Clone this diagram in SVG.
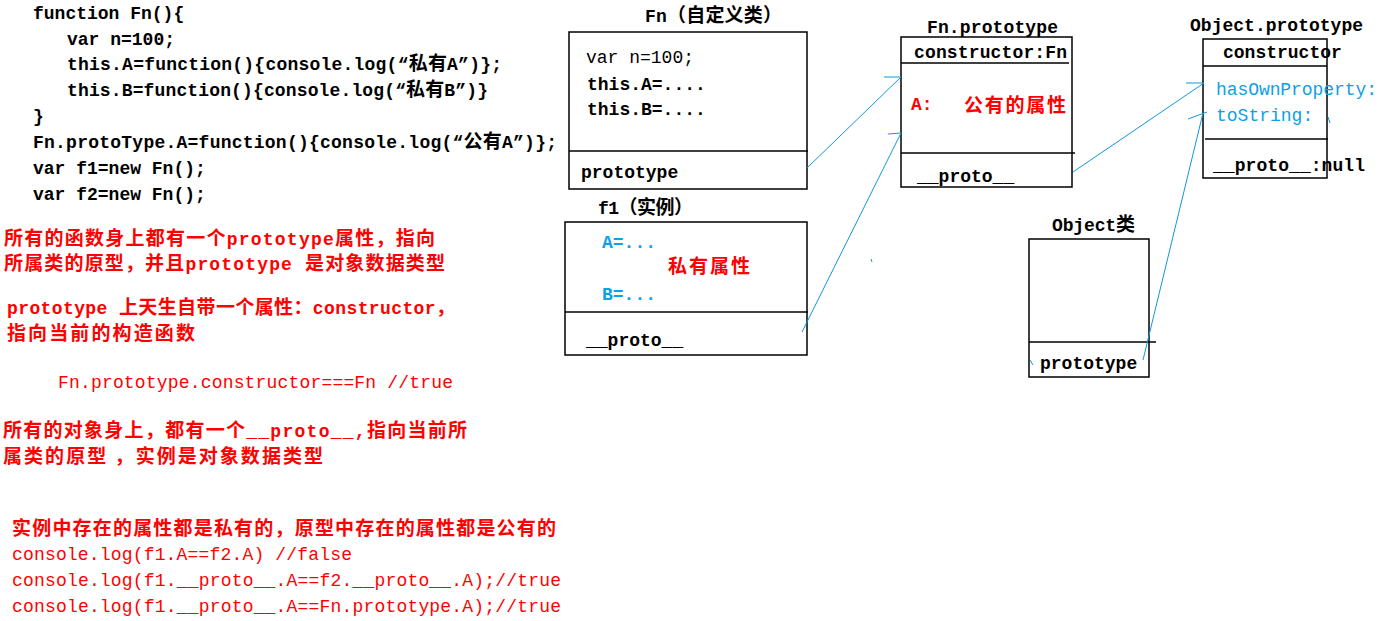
<svg xmlns="http://www.w3.org/2000/svg" width="1382" height="621" viewBox="0 0 1382 621">
<style>
.t{font-family:"Liberation Mono","Noto Sans CJK SC",monospace;font-size:18px;fill:#000}
.b{font-weight:bold}
.z{font-family:"Noto Sans CJK SC",sans-serif;font-size:19px}
.red{fill:#f00}
.blue{fill:#0ea0e4}
.box{fill:#fff;stroke:#000;stroke-width:1.5}
.sep{stroke:#000;stroke-width:1.5}
.conn{stroke:#1296db;stroke-width:1;fill:none}
</style>
<rect width="1382" height="621" fill="#fff"/>

<g id="code">
<text class="t b" x="33" y="19">function Fn(){</text>
<text class="t b" x="67" y="45">var n=100;</text>
<text class="t b" x="67" y="70" textLength="435" lengthAdjust="spacing">this.A=function(){console.log(“<tspan class="z">私有</tspan>A”)};</text>
<text class="t b" x="67" y="96" textLength="421" lengthAdjust="spacing">this.B=function(){console.log(“<tspan class="z">私有</tspan>B”)}</text>
<text class="t b" x="33" y="122">}</text>
<text class="t b" x="33" y="148" textLength="524" lengthAdjust="spacing">Fn.protoType.A=function(){console.log(“<tspan class="z">公有</tspan>A”)};</text>
<text class="t b" x="33" y="174">var f1=new Fn();</text>
<text class="t b" x="33" y="200">var f2=new Fn();</text>
</g>

<g id="notes">
<text class="t b red" x="4" y="245" textLength="431" lengthAdjust="spacing"><tspan class="z">所有的函数身上都有一个</tspan>prototype<tspan class="z">属性，指向</tspan></text>
<text class="t b red" x="4" y="270" textLength="441" lengthAdjust="spacing"><tspan class="z">所属类的原型，并且</tspan>prototype <tspan class="z">是对象数据类型</tspan></text>
<text class="t b red" x="7" y="314" textLength="448" lengthAdjust="spacing">prototype <tspan class="z">上天生自带一个属性：</tspan>constructor<tspan class="z">，</tspan></text>
<text class="t b red" x="7" y="340" textLength="188" lengthAdjust="spacing"><tspan class="z">指向当前的构造函数</tspan></text>
<text class="t red" x="58" y="388" textLength="395" lengthAdjust="spacing">Fn.prototype.constructor===Fn //true</text>
<text class="t b red" x="3" y="437" textLength="464" lengthAdjust="spacing"><tspan class="z">所有的对象身上，都有一个</tspan>__proto__,<tspan class="z">指向当前所</tspan></text>
<text class="t b red" x="3" y="463" textLength="320" lengthAdjust="spacing"><tspan class="z">属类的原型 ，实例是对象数据类型</tspan></text>
<text class="t b red" x="12" y="535" textLength="544" lengthAdjust="spacing"><tspan class="z">实例中存在的属性都是私有的，原型中存在的属性都是公有的</tspan></text>
<text class="t red" x="12" y="560" textLength="340" lengthAdjust="spacing">console.log(f1.A==f2.A) //false</text>
<text class="t red" x="12" y="586" textLength="549" lengthAdjust="spacing">console.log(f1.__proto__.A==f2.__proto__.A);//true</text>
<text class="t red" x="12" y="612" textLength="549" lengthAdjust="spacing">console.log(f1.__proto__.A==Fn.prototype.A);//true</text>
</g>

<g id="fn-class">
<text class="t b" x="645" y="22" textLength="137" lengthAdjust="spacing">Fn<tspan class="z">（自定义类）</tspan></text>
<rect class="box" x="569" y="32" width="238" height="157"/>
<line class="sep" x1="569" y1="151" x2="808" y2="151"/>
<text class="t" x="586" y="63">var n=100;</text>
<text class="t b" x="587" y="90">this.A=....</text>
<text class="t b" x="587" y="115">this.B=....</text>
<text class="t b" x="581" y="178">prototype</text>
</g>

<g id="f1-instance">
<text class="t b" x="598" y="214" textLength="95" lengthAdjust="spacing">f1<tspan class="z">（实例）</tspan></text>
<rect class="box" x="565" y="222" width="242" height="133"/>
<line class="sep" x1="565" y1="312" x2="808" y2="312"/>
<text class="t b blue" x="602" y="248">A=...</text>
<text class="t b red" x="668" y="273" textLength="82" lengthAdjust="spacing"><tspan class="z">私有属性</tspan></text>
<text class="t b blue" x="602" y="300">B=...</text>
<text class="t b" x="586" y="346">__proto__</text>
</g>

<g id="fn-prototype">
<text class="t b" x="927" y="33" textLength="131" lengthAdjust="spacing">Fn.prototype</text>
<rect class="box" x="901" y="37" width="171" height="150"/>
<line class="sep" x1="901" y1="63" x2="1069" y2="63"/>
<line class="sep" x1="901" y1="153" x2="1075" y2="153"/>
<text class="t b" x="914" y="58" textLength="153" lengthAdjust="spacing">constructor:Fn</text>
<text class="t b red" x="911" y="110">A:</text>
<text class="t b red" x="964" y="112" textLength="102" lengthAdjust="spacing"><tspan class="z">公有的属性</tspan></text>
<text class="t b" x="917" y="182">__proto__</text>
</g>

<g id="object-prototype">
<text class="t b" x="1190" y="31" textLength="173" lengthAdjust="spacing">Object.prototype</text>
<rect class="box" x="1203" y="39" width="124" height="139"/>
<line class="sep" x1="1203" y1="66" x2="1327" y2="66"/>
<line class="sep" x1="1205" y1="139" x2="1328" y2="139"/>
<text class="t b" x="1223" y="58">constructor</text>
<text class="t blue" x="1216" y="95" textLength="161" lengthAdjust="spacing">hasOwnProperty:</text>
<text class="t blue" x="1216" y="121">toString:</text>
<text class="t b" x="1213" y="171" textLength="152" lengthAdjust="spacing">__proto__:null</text>
</g>

<g id="object-class">
<text class="t b" x="1052" y="231" textLength="83" lengthAdjust="spacing">Object<tspan class="z">类</tspan></text>
<rect class="box" x="1029" y="239" width="120" height="138"/>
<line class="sep" x1="1029" y1="342" x2="1156" y2="342"/>
<text class="t b" x="1040" y="369">prototype</text>
</g>

<g id="connectors">
<path class="conn" d="M807,168 L901,77 M884,77 L901,77"/>
<path class="conn" d="M802,332 L901,133 M888,134 L901,133"/>
<path class="conn" d="M1073,172 L1204,83 M1186,83 L1204,83"/>
<path class="conn" d="M1143,360 L1203,113 M1188,119 L1207,112"/>
<path class="conn" d="M1328,117 L1330,123 M1030,360 L1033,365 M871,259 L872,262"/>
</g>
</svg>
